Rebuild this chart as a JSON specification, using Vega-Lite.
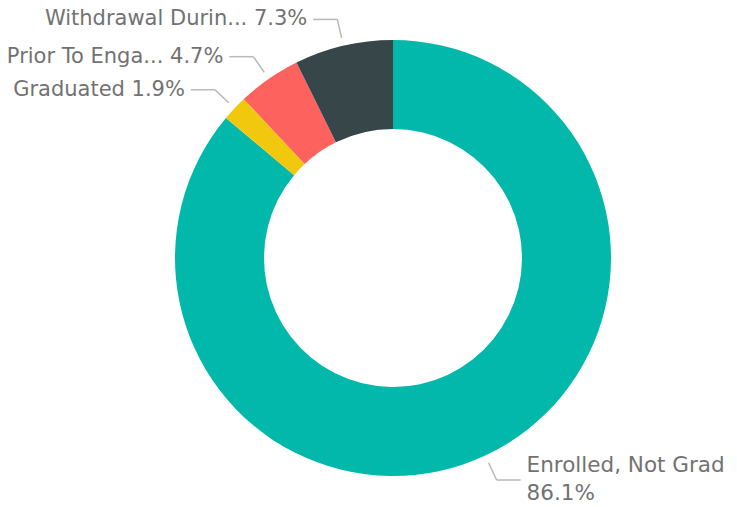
{
  "$schema": "https://vega.github.io/schema/vega-lite/v6.json",
  "autosize": "none",
  "padding": 0,
  "width": 786,
  "height": 516,
  "background": "white",
  "config": {"view": {"stroke": null}},
  "data": {"values": [
    {"category": "Enrolled, Not Grad", "value": 86.1, "order": 1},
    {"category": "Graduated", "value": 1.9, "order": 2},
    {"category": "Prior To Enga...", "value": 4.7, "order": 3},
    {"category": "Withdrawal Durin...", "value": 7.3, "order": 4}
  ]},
  "transform": [
    {"window": [{"op": "sum", "field": "value", "as": "cum"}], "sort": [{"field": "order"}], "frame": [null, 0]},
    {"calculate": "(datum.cum - datum.value/2) / 100 * 2 * PI", "as": "a"},
    {"calculate": "sin(datum.a) >= 0 ? 1 : -1", "as": "side"},
    {"calculate": "226 * sin(datum.a)", "as": "x0"},
    {"calculate": "226 * cos(datum.a)", "as": "y0"},
    {"calculate": "245 * sin(datum.a)", "as": "x1"},
    {"calculate": "245 * cos(datum.a)", "as": "y1"},
    {"calculate": "datum.x1 + datum.side * 24", "as": "x2"},
    {"calculate": "datum.x2 + datum.side * 6", "as": "xt"},
    {"calculate": "datum.side > 0 ? datum.category + '\\n' + format(datum.value, '.1f') + '%' : datum.category + ' ' + format(datum.value, '.1f') + '%'", "as": "label"}
  ],
  "layer": [
    {
      "mark": {"type": "arc", "radius": 218, "radius2": 129},
      "encoding": {
        "theta": {"field": "value", "type": "quantitative", "stack": true},
        "order": {"field": "order", "type": "quantitative"},
        "color": {"field": "category", "type": "nominal", "legend": null,
          "scale": {"domain": ["Enrolled, Not Grad", "Graduated", "Prior To Enga...", "Withdrawal Durin..."],
                    "range": ["#01B8AA", "#F2C80F", "#FD625E", "#374649"]}}
      }
    },
    {
      "mark": {"type": "rule", "color": "#B8B8B8", "strokeWidth": 1.5},
      "encoding": {
        "x": {"field": "x0", "type": "quantitative", "scale": {"domain": [-393, 393], "nice": false, "zero": false}, "axis": null},
        "y": {"field": "y0", "type": "quantitative", "scale": {"domain": [-258, 258], "nice": false, "zero": false}, "axis": null},
        "x2": {"field": "x1"},
        "y2": {"field": "y1"}
      }
    },
    {
      "mark": {"type": "rule", "color": "#B8B8B8", "strokeWidth": 1.5},
      "encoding": {
        "x": {"field": "x1", "type": "quantitative", "axis": null},
        "y": {"field": "y1", "type": "quantitative", "axis": null},
        "x2": {"field": "x2"}
      }
    },
    {
      "transform": [{"filter": "datum.side < 0"}],
      "mark": {"type": "text", "align": "right", "baseline": "middle", "font": "DejaVu Sans", "fontSize": 21, "color": "#727272"},
      "encoding": {
        "x": {"field": "xt", "type": "quantitative", "axis": null},
        "y": {"field": "y1", "type": "quantitative", "axis": null},
        "text": {"field": "label"}
      }
    },
    {
      "transform": [{"filter": "datum.side > 0"}],
      "mark": {"type": "text", "align": "left", "baseline": "middle", "font": "DejaVu Sans", "fontSize": 21.5, "color": "#727272", "lineBreak": "\n", "lineHeight": 28, "dy": -14},
      "encoding": {
        "x": {"field": "xt", "type": "quantitative", "axis": null},
        "y": {"field": "y1", "type": "quantitative", "axis": null},
        "text": {"field": "label"}
      }
    }
  ]
}
